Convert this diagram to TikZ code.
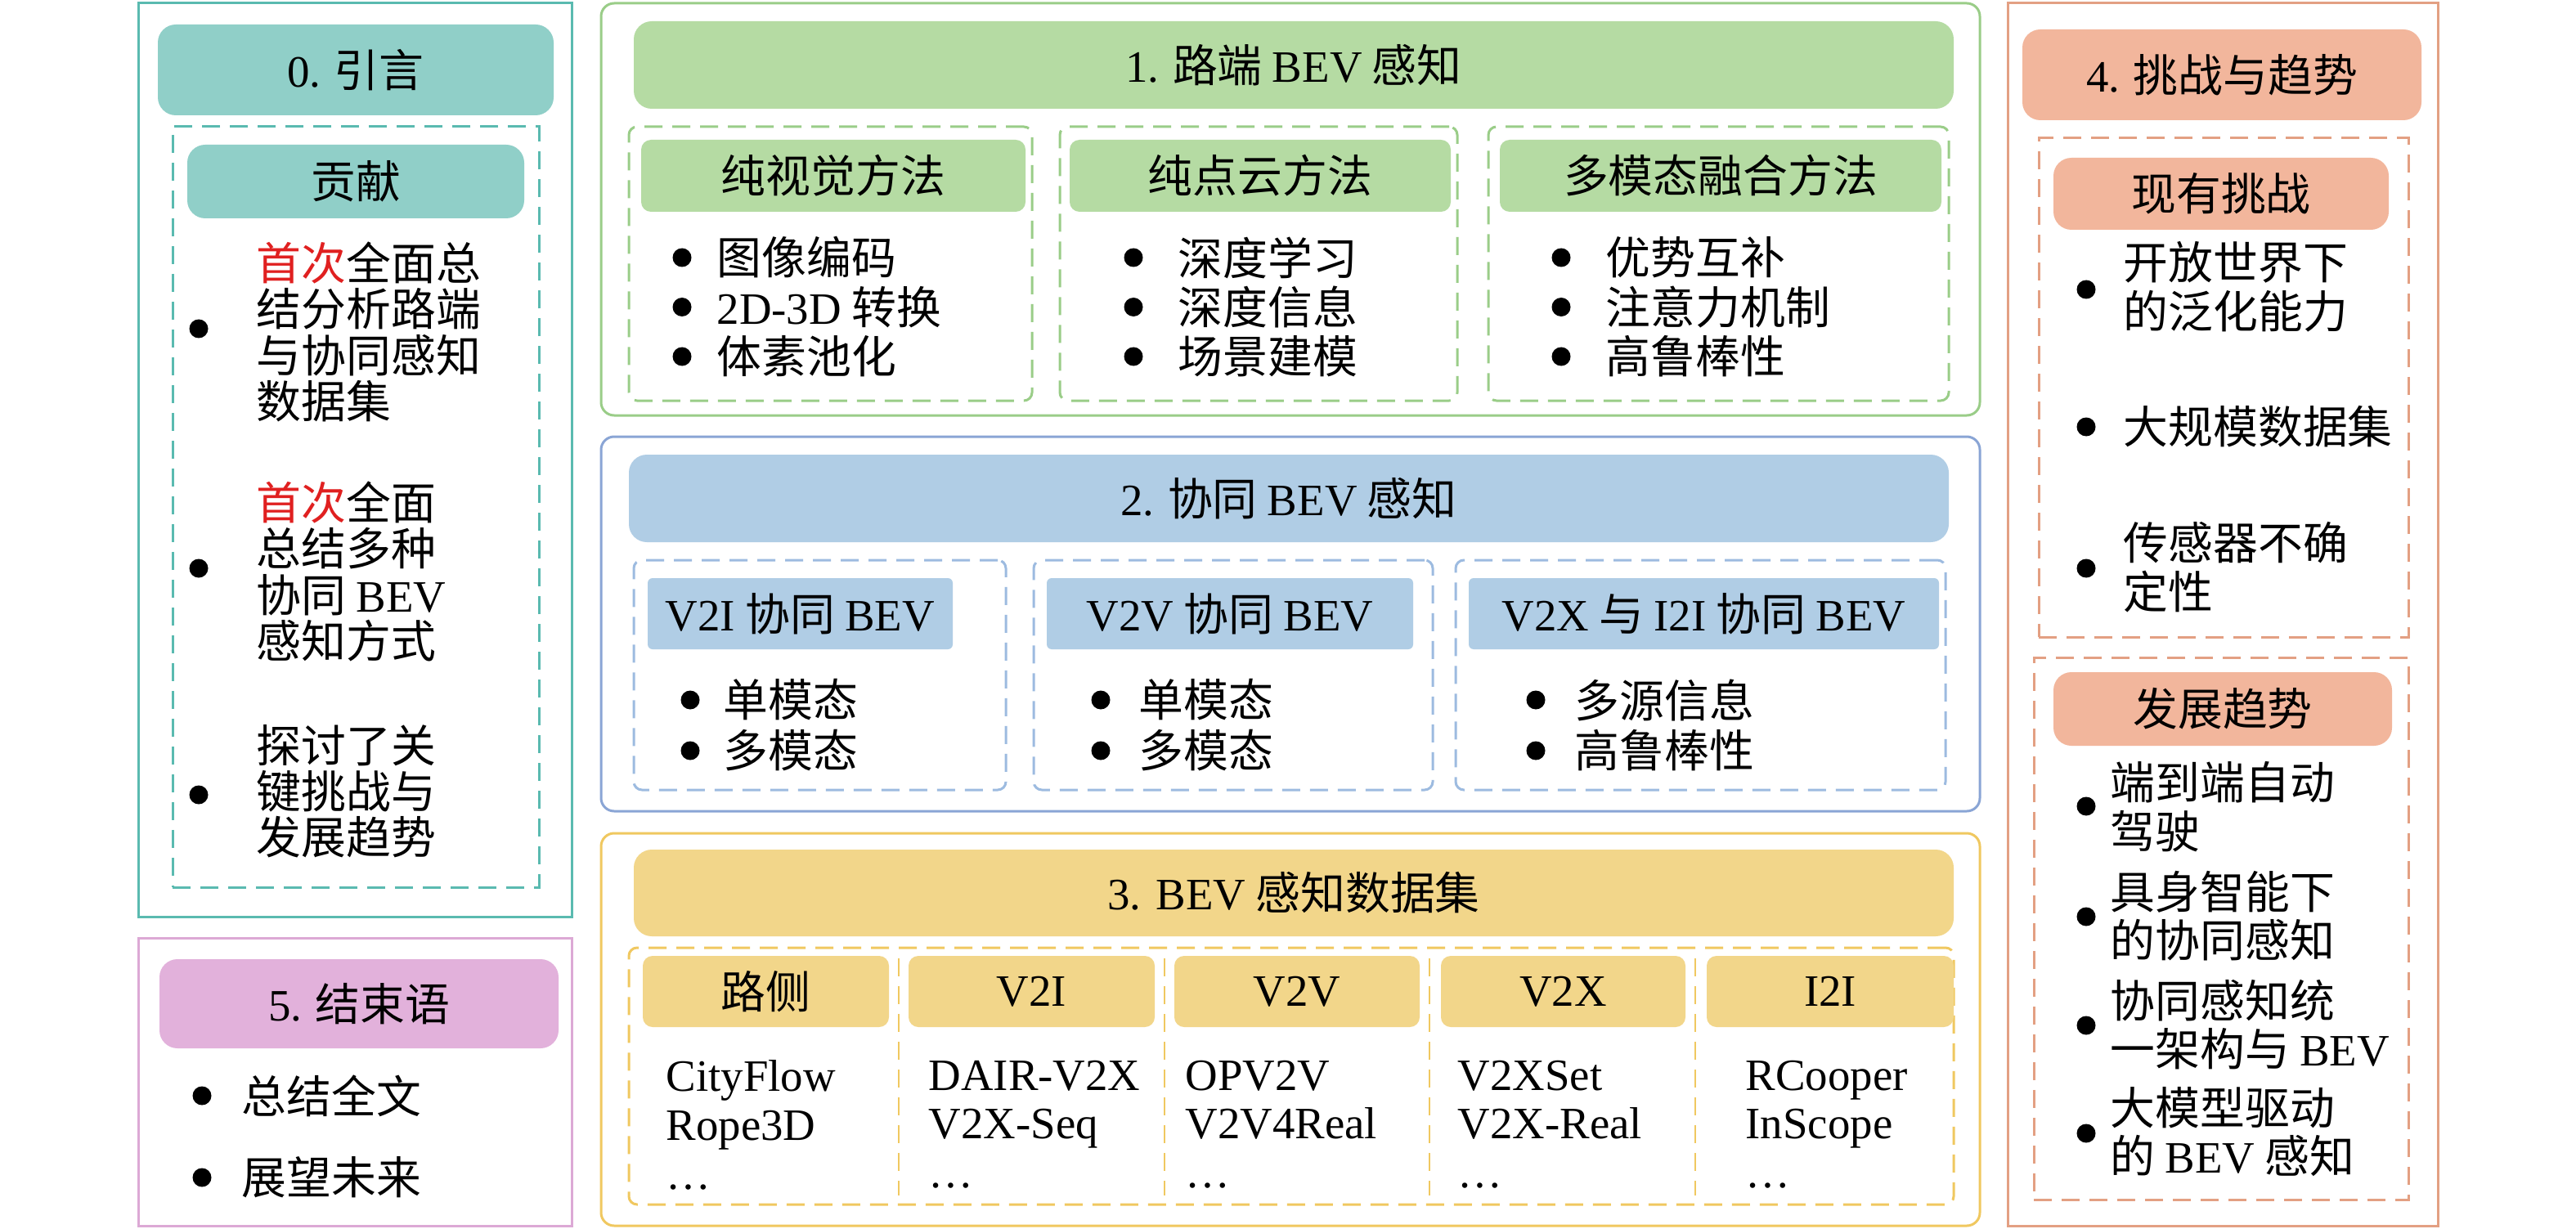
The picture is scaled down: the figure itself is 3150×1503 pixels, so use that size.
\documentclass[tikz,border=0pt]{standalone}
\usepackage{fontspec}
\setmainfont{Noto Sans CJK SC}
\newfontfamily\tms{Liberation Serif}
\newcommand\en[1]{{\tms #1}}
\usetikzlibrary{fit}
\definecolor{tealF}{HTML}{90CFC8}
\definecolor{tealB}{HTML}{5ABAB0}
\definecolor{greenF}{HTML}{B5DBA3}
\definecolor{greenB}{HTML}{9ACD88}
\definecolor{blueF}{HTML}{B0CDE5}
\definecolor{blueB}{HTML}{8AA5D5}
\definecolor{blueD}{HTML}{9DBBE0}
\definecolor{goldF}{HTML}{F2D68A}
\definecolor{goldB}{HTML}{F0C860}
\definecolor{salF}{HTML}{F2B69C}
\definecolor{salB}{HTML}{E3A083}
\definecolor{pinkF}{HTML}{E2B1DB}
\definecolor{pinkB}{HTML}{DCA9D5}
\definecolor{redT}{HTML}{E02020}
\begin{document}
\begin{tikzpicture}[x=0.1mm,y=-0.1mm,
  every node/.style={font=\fontsize{15.6}{16}\selectfont, inner sep=0pt},
  panel/.style={inner sep=0pt, line width=0.3mm},
  hdr/.style={inner sep=0pt, rounded corners=2.2mm},
  shdr/.style={inner sep=0pt, rounded corners=1.2mm},
  dbox/.style={inner sep=0pt, dashed, dash pattern=on 2.2mm off 1.2mm, line width=0.3mm},
  dot/.style={circle, fill=black, minimum size=2.3mm, inner sep=0pt},
  itm/.style={anchor=west, align=left},
  ltxt/.style={itm, font=\fontsize{15.6}{16}\selectfont},
  rtxt/.style={itm, font=\fontsize{15.6}{17}\selectfont},
  dtxt/.style={anchor=north west, align=left, font=\tms\fontsize{15.6}{17}\selectfont},
]
\fill[white] (0,0) rectangle (3150,1503);
\useasboundingbox (0,0) rectangle (3150,1503);

% ---------- Panel 0 ----------
\node[panel, draw=tealB, fit={(169,4) (699,1121)}] (p0) {};
\node[hdr, fill=tealF, fit={(193,30) (677,141)}] (h0) {};
\node (h0t) at (h0) {\en{0.} 引言};
\node[dbox, draw=tealB, fit={(211,155) (659,1085)}] (d0) {};
\node[hdr, fill=tealF, fit={(229,177) (641,267)}] (s0) {};
\node (s0t) at (s0) {贡献};
\node[dot] (b01) at (243,402) {};
\node[ltxt] (t01) at (313,406) {\textcolor{redT}{首次}全面总\\结分析路端\\与协同感知\\数据集};
\node[dot] (b02) at (243,695) {};
\node[ltxt] (t02) at (313,699) {\textcolor{redT}{首次}全面\\总结多种\\协同 \en{BEV}\\感知方式};
\node[dot] (b03) at (243,972) {};
\node[ltxt] (t03) at (313,968) {探讨了关\\键挑战与\\发展趋势};

% ---------- Panel 5 ----------
\node[panel, draw=pinkB, fit={(169,1147) (699,1499)}] (p5) {};
\node[hdr, fill=pinkF, fit={(195,1173) (683,1282)}] (h5) {};
\node (h5t) at (h5) {\en{5.} 结束语};
\node[dot] (b51) at (247,1340) {};
\node[itm] (t51) at (295,1340) {总结全文};
\node[dot] (b52) at (247,1440) {};
\node[itm] (t52) at (295,1440) {展望未来};

% ---------- Panel 1 ----------
\node[panel, draw=greenB, rounded corners=1.6mm, fit={(735,4) (2421,508)}] (p1) {};
\node[hdr, fill=greenF, fit={(775,26) (2389,133)}] (h1) {};
\node (h1t) at (h1) {\en{1.} 路端 \en{BEV} 感知};
\node[dbox, draw=greenB, rounded corners=1mm, fit={(769,155) (1262,490)}] (d11) {};
\node[dbox, draw=greenB, rounded corners=1mm, fit={(1296,155) (1782,490)}] (d12) {};
\node[dbox, draw=greenB, rounded corners=1mm, fit={(1820,155) (2383,490)}] (d13) {};
\node[shdr, fill=greenF, fit={(784,171) (1254,259)}] (s11) {};
\node (s11t) at (s11) {纯视觉方法};
\node[shdr, fill=greenF, fit={(1308,171) (1774,259)}] (s12) {};
\node (s12t) at (s12) {纯点云方法};
\node[shdr, fill=greenF, fit={(1834,171) (2374,259)}] (s13) {};
\node (s13t) at (s13) {多模态融合方法};
\foreach \t [count=\i] in {图像编码,{\en{2D-3D} 转换},体素池化}{
  \node[dot] (b11\i) at (834,{315+(\i-1)*60.5}) {};
  \node[itm] (t11\i) at (876,{315+(\i-1)*60.5}) {\t};
}
\foreach \t [count=\i] in {深度学习,深度信息,场景建模}{
  \node[dot] (b12\i) at (1386,{315+(\i-1)*60.5}) {};
  \node[itm] (t12\i) at (1440,{315+(\i-1)*60.5}) {\t};
}
\foreach \t [count=\i] in {优势互补,注意力机制,高鲁棒性}{
  \node[dot] (b13\i) at (1909,{315+(\i-1)*60.5}) {};
  \node[itm] (t13\i) at (1963,{315+(\i-1)*60.5}) {\t};
}

% ---------- Panel 2 ----------
\node[panel, draw=blueB, rounded corners=1.6mm, fit={(735,534) (2421,992)}] (p2) {};
\node[hdr, fill=blueF, fit={(769,556) (2383,663)}] (h2) {};
\node (h2t) at (h2) {\en{2.} 协同 \en{BEV} 感知};
\node[dbox, draw=blueD, rounded corners=1mm, fit={(775,685) (1230,966)}] (d21) {};
\node[dbox, draw=blueD, rounded corners=1mm, fit={(1264,685) (1752,966)}] (d22) {};
\node[dbox, draw=blueD, rounded corners=1mm, fit={(1780,685) (2379,966)}] (d23) {};
\node[shdr, rounded corners=0.6mm, fill=blueF, fit={(792,707) (1165,794)}] (s21) {};
\node (s21t) at (s21) {\en{V2I} 协同 \en{BEV}};
\node[shdr, rounded corners=0.6mm, fill=blueF, fit={(1280,707) (1728,794)}] (s22) {};
\node (s22t) at (s22) {\en{V2V} 协同 \en{BEV}};
\node[shdr, rounded corners=0.6mm, fill=blueF, fit={(1796,707) (2371,794)}] (s23) {};
\node (s23t) at (s23) {\en{V2X} 与 \en{I2I} 协同 \en{BEV}};
\foreach \t [count=\i] in {单模态,多模态}{
  \node[dot] (b21\i) at (844,{856+(\i-1)*62}) {};
  \node[itm] (t21\i) at (884,{856+(\i-1)*62}) {\t};
  \node[dot] (b22\i) at (1346,{856+(\i-1)*62}) {};
  \node[itm] (t22\i) at (1392,{856+(\i-1)*62}) {\t};
}
\foreach \t [count=\i] in {多源信息,高鲁棒性}{
  \node[dot] (b23\i) at (1878,{856+(\i-1)*62}) {};
  \node[itm] (t23\i) at (1925,{856+(\i-1)*62}) {\t};
}

% ---------- Panel 3 ----------
\node[panel, draw=goldB, rounded corners=1.6mm, fit={(735,1019) (2421,1499)}] (p3) {};
\node[hdr, fill=goldF, fit={(775,1039) (2389,1145)}] (h3) {};
\node (h3t) at (h3) {\en{3. BEV} 感知数据集};
\node[dbox, draw=goldB, rounded corners=1mm, fit={(769,1159) (2389,1473)}] (d3) {};
\node[shdr, fill=goldF, fit={(786,1169) (1087,1256)}] (s31) {};
\node (s31t) at (s31) {路侧};
\node[shdr, fill=goldF, fit={(1111,1169) (1412,1256)}] (s32) {};
\node (s32t) at (s32) {\en{V2I}};
\node[shdr, fill=goldF, fit={(1436,1169) (1736,1256)}] (s33) {};
\node (s33t) at (s33) {\en{V2V}};
\node[shdr, fill=goldF, fit={(1762,1169) (2061,1256)}] (s34) {};
\node (s34t) at (s34) {\en{V2X}};
\node[shdr, fill=goldF, fit={(2087,1169) (2389,1256)}] (s35) {};
\node (s35t) at (s35) {\en{I2I}};
\foreach \x in {1099,1424,1748,2073}
  \draw[goldB, dashed, dash pattern=on 2.2mm off 1.2mm, line width=0.2mm] (\x,1172) -- (\x,1462);
\node[dtxt] (t31) at (814,1296) {CityFlow\\Rope3D\\…};
\node[dtxt] (t32) at (1135,1296) {DAIR-V2X\\V2X-Seq\\…};
\node[dtxt] (t33) at (1449,1296) {OPV2V\\V2V4Real\\…};
\node[dtxt] (t34) at (1782,1296) {V2XSet\\V2X-Real\\…};
\node[dtxt] (t35) at (2134,1296) {RCooper\\InScope\\…};

% ---------- Panel 4 ----------
\node[panel, draw=salB, fit={(2455,4) (2981,1499)}] (p4) {};
\node[hdr, fill=salF, fit={(2473,36) (2961,147)}] (h4) {};
\node (h4t) at (h4) {\en{4.} 挑战与趋势};
\node[dbox, draw=salB, fit={(2493,169) (2945,779)}] (d41) {};
\node[hdr, fill=salF, fit={(2511,193) (2921,281)}] (s41) {};
\node (s41t) at (s41) {现有挑战};
\node[dot] (b411) at (2551,354) {};
\node[rtxt] (t411) at (2596,351) {开放世界下\\的泛化能力};
\node[dot] (b412) at (2551,522) {};
\node[rtxt] (t412) at (2596,522) {大规模数据集};
\node[dot] (b413) at (2551,695) {};
\node[rtxt] (t413) at (2596,694) {传感器不确\\定性};
\node[dbox, draw=salB, fit={(2487,804) (2945,1467)}] (d42) {};
\node[hdr, fill=salF, fit={(2511,822) (2925,912)}] (s42) {};
\node (s42t) at (s42) {发展趋势};
\node[dot] (b421) at (2551,986) {};
\node[rtxt] (t421) at (2580,987) {端到端自动\\驾驶};
\node[dot] (b422) at (2551,1121) {};
\node[rtxt] (t422) at (2580,1120) {具身智能下\\的协同感知};
\node[dot] (b423) at (2551,1254) {};
\node[rtxt] (t423) at (2580,1253) {协同感知统\\一架构与 \en{BEV}};
\node[dot] (b424) at (2551,1386) {};
\node[rtxt] (t424) at (2580,1384) {大模型驱动\\的 \en{BEV} 感知};
\end{tikzpicture}
\end{document}
